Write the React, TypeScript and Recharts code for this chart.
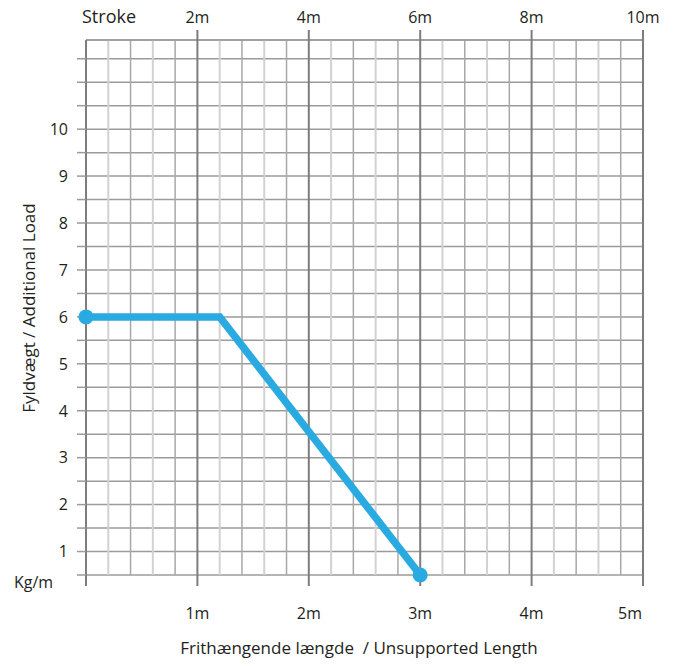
import { LineChart, Line, XAxis, YAxis, CartesianGrid, ReferenceLine } from "recharts";

// unsupported length (m) vs additional load (kg/m)
const lengths = [0, 1.2, 3];
const loads = [6, 6, 0.5];

const bottomTicks = [0, 1, 2, 3, 4, 5];
const strokeTicks = [2, 4, 6, 8, 10];
const loadTicks = [0.5, 1, 1.5, 2, 2.5, 3, 3.5, 4, 4.5, 5, 5.5, 6, 6.5, 7, 7.5, 8, 8.5, 9, 9.5, 10, 10.5, 11, 11.5];
const loadMax = 11.9;

const lightX = [0.2, 0.6, 1.2, 1.6, 2.2, 2.6, 3.2, 3.6, 4.2, 4.6];
const midX = [0.4, 0.8, 1.4, 1.8, 2.4, 2.8, 3.4, 3.8, 4.4, 4.8];
const majorX = [1, 2, 3, 4, 5];

const data = lengths.map((x, i) => ({ x, load: loads[i] }));

const FONT = "'Open Sans', sans-serif";
const INK = "#231f20";
const BLUE = "#29abe2";

function BottomTick(props: any) {
  const { x, y, payload } = props;
  if (payload.value === 0) return <g />;
  const last = payload.value === 5;
  return (
    <text
      x={last ? x - 1 : x}
      y={y}
      dy="0.71em"
      textAnchor={last ? "end" : "middle"}
      fontFamily={FONT}
      fontSize={16}
      fill={INK}
    >
      {payload.value}m
    </text>
  );
}

function TopTick(props: any) {
  const { x, y, payload } = props;
  return (
    <text x={x} y={y} textAnchor="middle" fontFamily={FONT} fontSize={16} fill={INK}>
      {payload.value}m
    </text>
  );
}

function LoadTick(props: any) {
  const { x, y, payload } = props;
  const v = payload.value;
  if (!Number.isInteger(v) || v > 10) return <g />;
  return (
    <text x={x} y={y} dy="0.36em" textAnchor="end" fontFamily={FONT} fontSize={16} fill={INK}>
      {v}
    </text>
  );
}

function EndDot(props: any) {
  const { cx, cy, index } = props;
  if (index !== 0 && index !== data.length - 1) return <g key={index} />;
  return <circle key={index} cx={cx} cy={cy} r={7.5} fill={BLUE} />;
}

export default function App() {
  return (
    <div style={{ margin: -8, width: 680, height: 666, background: "#fff" }}>
      <LineChart
        width={680}
        height={666}
        data={data}
        margin={{ top: 20, right: 37, bottom: 61, left: 26 }}
      >
        <CartesianGrid horizontal vertical={false} stroke="#9b9b9b" strokeWidth={1.5} />
        {lightX.map((v) => (
          <ReferenceLine key={"l" + v} x={v} stroke="#d2d2d2" strokeWidth={2} />
        ))}
        {midX.map((v) => (
          <ReferenceLine key={"m" + v} x={v} stroke="#a8a8a8" strokeWidth={1.5} />
        ))}
        <ReferenceLine y={loadMax} stroke="#9b9b9b" strokeWidth={1.5} />
        {majorX.map((v) => (
          <ReferenceLine key={"M" + v} x={v} stroke="#7d7d7d" strokeWidth={2} />
        ))}
        <XAxis
          dataKey="x"
          type="number"
          domain={[0, 5]}
          ticks={bottomTicks}
          interval={0}
          height={30}
          axisLine={false}
          tickSize={11}
          tickMargin={22}
          tickLine={{ stroke: "#7d7d7d", strokeWidth: 2 }}
          tick={<BottomTick />}
          label={{
            content: () => (
              <text x={359} y={654} textAnchor="middle" fontFamily={FONT} fontSize={17} fill={INK}>
                {"Frithængende længde\u00a0\u00a0/ Unsupported Length"}
              </text>
            ),
          }}
        />
        <XAxis
          xAxisId="top"
          dataKey={(d: any) => d.x * 2}
          orientation="top"
          type="number"
          domain={[0, 10]}
          allowDataOverflow
          ticks={strokeTicks}
          interval={0}
          height={20}
          axisLine={false}
          tickSize={10}
          tickMargin={7.5}
          tickLine={{ stroke: "#7d7d7d", strokeWidth: 2 }}
          tick={<TopTick />}
          label={{
            content: () => (
              <text x={82} y={22.5} fontFamily={FONT} fontSize={18} fill={INK}>
                Stroke
              </text>
            ),
          }}
        />
        <YAxis
          type="number"
          domain={[0.5, loadMax]}
          ticks={loadTicks}
          interval={0}
          width={60}
          tickSize={9}
          tickMargin={9}
          axisLine={{ stroke: "#7d7d7d", strokeWidth: 2 }}
          tickLine={{ stroke: "#9b9b9b", strokeWidth: 1.5 }}
          tick={<LoadTick />}
          label={{
            content: () => (
              <g fontFamily={FONT} fill={INK}>
                <text
                  transform="translate(35,308) rotate(-90)"
                  textAnchor="middle"
                  fontSize={17}
                >
                  Fyldvægt / Additional Load
                </text>
                <text x={33.5} y={588} textAnchor="middle" fontSize={16}>
                  Kg/m
                </text>
              </g>
            ),
          }}
        />
        <Line
          type="linear"
          dataKey="load"
          stroke={BLUE}
          strokeWidth={7.5}
          strokeLinejoin="miter"
          dot={EndDot}
          activeDot={false}
          isAnimationActive={false}
        />
      </LineChart>
    </div>
  );
}
